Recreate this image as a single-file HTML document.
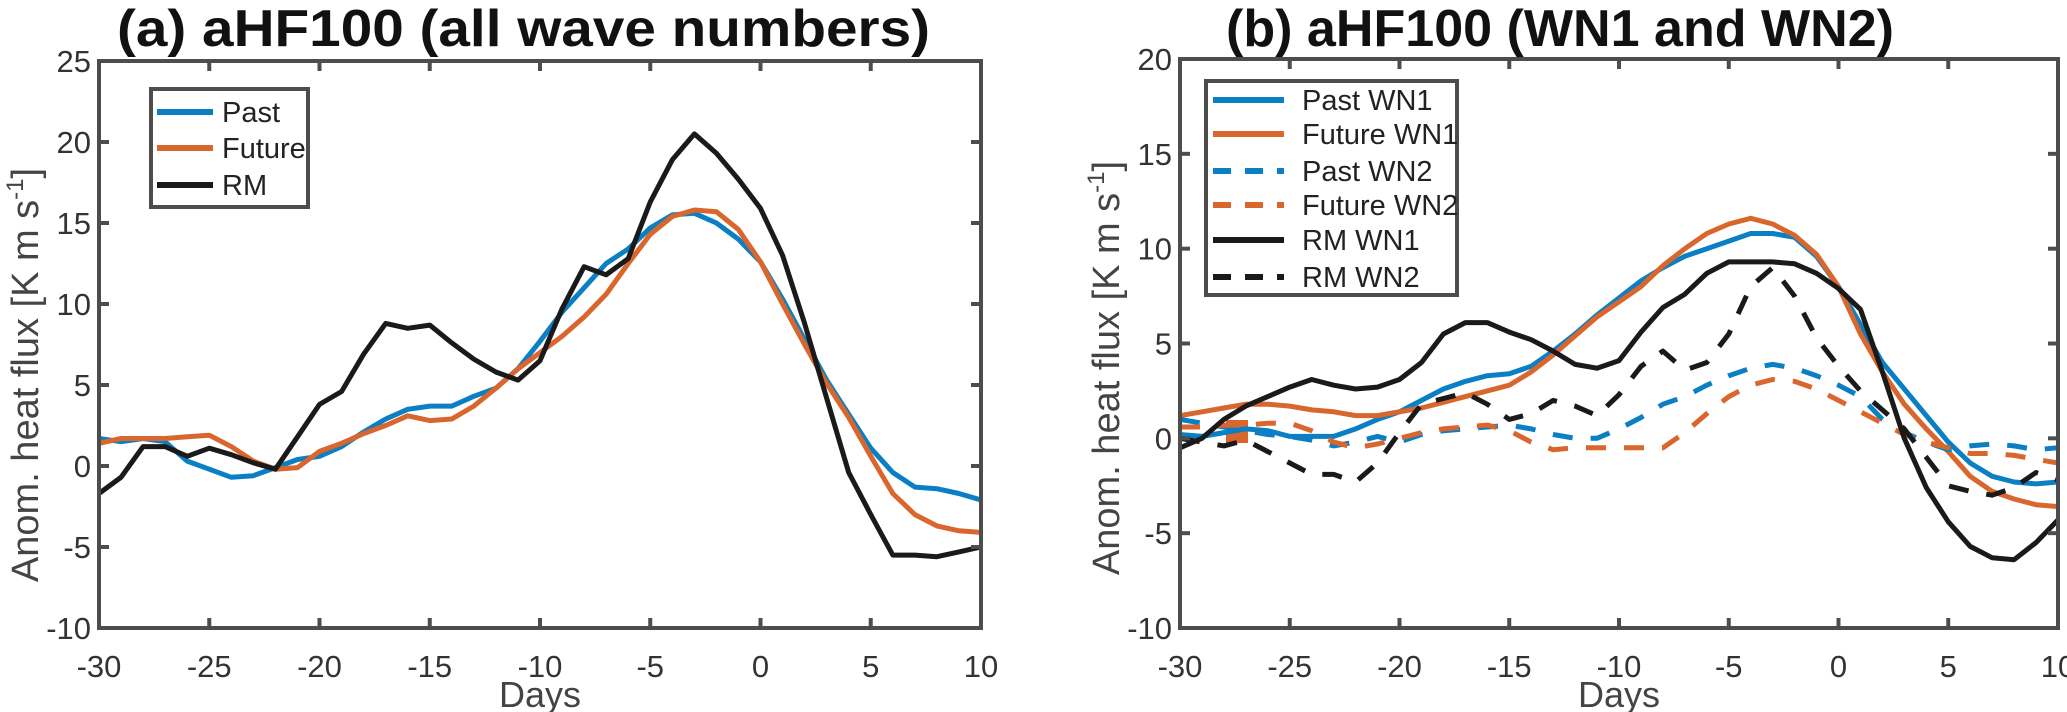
<!DOCTYPE html>
<html><head><meta charset="utf-8"><style>
html,body{margin:0;padding:0;background:#fff}
svg{display:block}
text{font-family:"Liberation Sans",sans-serif}
</style></head><body>
<svg id="chart" width="2067" height="712" viewBox="0 0 2067 712" xmlns="http://www.w3.org/2000/svg">
<g id="pa"></g>
<g id="pb"></g>
</svg>
<script>
const days = [-30,-29,-28,-27,-26,-25,-24,-23,-22,-21,-20,-19,-18,-17,-16,-15,-14,-13,-12,-11,-10,-9,-8,-7,-6,-5,-4,-3,-2,-1,0,1,2,3,4,5,6,7,8,9,10];
const xTicks = [-30,-25,-20,-15,-10,-5,0,5,10];
const yTicksA = [-10,-5,0,5,10,15,20,25];
const yTicksB = [-10,-5,0,5,10,15,20];
const pastA = [1.7,1.5,1.7,1.5,0.3,-0.2,-0.7,-0.6,-0.1,0.4,0.6,1.2,2.1,2.9,3.5,3.7,3.7,4.3,4.8,6.0,7.7,9.5,11.0,12.5,13.4,14.7,15.5,15.6,15.0,14.0,12.6,10.3,7.8,5.3,3.2,1.1,-0.4,-1.3,-1.4,-1.7,-2.1];
const futureA = [1.4,1.7,1.7,1.7,1.8,1.9,1.2,0.3,-0.2,-0.1,0.9,1.4,2.0,2.5,3.1,2.8,2.9,3.7,4.8,6.0,7.0,8.0,9.2,10.6,12.5,14.3,15.4,15.8,15.7,14.6,12.6,10.0,7.5,5.1,3.0,0.6,-1.7,-3.0,-3.7,-4.0,-4.1];
const rmA = [-1.7,-0.7,1.2,1.2,0.6,1.1,0.7,0.2,-0.2,1.8,3.8,4.6,6.9,8.8,8.5,8.7,7.6,6.6,5.8,5.3,6.5,9.7,12.3,11.8,12.8,16.3,18.9,20.5,19.3,17.7,15.9,13.0,8.8,4.2,-0.4,-3.0,-5.5,-5.5,-5.6,-5.3,-5.0];
const pastWN1 = [0.2,0.1,0.3,0.5,0.4,0.1,0.1,0.1,0.5,1.0,1.4,2.0,2.6,3.0,3.3,3.4,3.8,4.6,5.5,6.5,7.4,8.3,9.0,9.6,10.0,10.4,10.8,10.8,10.6,9.6,8.0,6.0,4.0,2.6,1.2,-0.2,-1.3,-2.0,-2.3,-2.4,-2.3];
const futureWN1 = [1.2,1.4,1.6,1.8,1.8,1.7,1.5,1.4,1.2,1.2,1.4,1.6,1.9,2.2,2.5,2.8,3.5,4.4,5.4,6.4,7.2,8.0,9.1,10.0,10.8,11.3,11.6,11.3,10.7,9.7,8.0,5.5,3.5,1.8,0.5,-0.7,-2.0,-2.8,-3.2,-3.5,-3.6];
const pastWN2 = [1.0,0.8,0.6,0.4,0.2,0.1,-0.1,-0.4,-0.2,0.1,-0.2,0.2,0.4,0.5,0.6,0.7,0.5,0.2,0.0,0.0,0.5,1.1,1.8,2.2,2.8,3.3,3.7,3.9,3.7,3.3,2.8,2.2,1.0,0.3,-0.2,-0.6,-0.4,-0.3,-0.4,-0.6,-0.5];
const futureWN2 = [0.6,0.6,0.7,0.7,0.8,0.8,0.4,-0.2,-0.5,-0.3,0.0,0.3,0.5,0.6,0.7,0.4,-0.2,-0.6,-0.5,-0.5,-0.5,-0.5,-0.5,0.3,1.3,2.2,2.8,3.1,3.0,2.6,2.0,1.4,0.8,0.2,-0.2,-0.5,-0.8,-0.8,-0.9,-1.1,-1.3];
const rmWN1 = [-0.5,0.0,1.0,1.7,2.2,2.7,3.1,2.8,2.6,2.7,3.1,4.0,5.5,6.1,6.1,5.6,5.2,4.6,3.9,3.7,4.1,5.6,6.9,7.6,8.7,9.3,9.3,9.3,9.2,8.7,7.9,6.8,3.5,0.0,-2.6,-4.4,-5.7,-6.3,-6.4,-5.5,-4.3];
const rmWN2 = [0.0,-0.2,-0.4,-0.1,-0.7,-1.3,-1.9,-1.9,-2.3,-1.3,0.3,1.8,2.1,2.4,1.8,1.0,1.3,2.0,1.7,1.2,2.3,3.8,4.6,3.6,4.0,5.5,8.0,9.0,7.5,5.3,3.8,2.5,1.5,0.5,-1.0,-2.5,-2.8,-3.0,-2.6,-1.8,-2.2];

const BLUE="#0a7fc4", ORANGE="#d9662c", BLACK="#1a1a1a", AX="#4d4d4d";
const NS="http://www.w3.org/2000/svg";
function mk(parent,tag,attrs){const e=document.createElementNS(NS,tag);for(const k in attrs)e.setAttribute(k,attrs[k]);parent.appendChild(e);return e;}

function panel(g,cfg){
  const {L,R,T,B,ymin,ymax,yTicks}=cfg;
  const xs=d=>L+(d+30)/40*(R-L);
  const ys=v=>B-(v-ymin)/(ymax-ymin)*(B-T);
  const clip=mk(g,'clipPath',{id:cfg.id+'clip'});
  mk(clip,'rect',{x:L,y:T,width:R-L,height:B-T});
  const lines=mk(g,'g',{'clip-path':'url(#'+cfg.id+'clip)'});
  
  
  if(cfg.extra) cfg.extra(lines,xs,ys);
  cfg.series.forEach(s=>{
    const p=mk(lines,'polyline',{points:days.map((d,i)=>xs(d).toFixed(1)+','+ys(s.v[i]).toFixed(1)).join(' '),fill:'none',stroke:s.c,'stroke-width':5,'stroke-linejoin':'round'});
    if(s.dash)p.setAttribute('stroke-dasharray','20,18');
    
    
  });
  const box=mk(g,'rect',{x:L,y:T,width:R-L,height:B-T,fill:'none',stroke:AX,'stroke-width':4});
  
  
  xTicks.forEach(t=>{
    const x=xs(t);
    mk(g,'line',{x1:x,x2:x,y1:B,y2:B-10,stroke:AX,'stroke-width':4});
    mk(g,'line',{x1:x,x2:x,y1:T,y2:T+10,stroke:AX,'stroke-width':4});
    const tx=mk(g,'text',{x:x,y:677,'text-anchor':'middle','font-size':31,fill:'#333'});
    tx.textContent=t;
    
    
  });
  yTicks.forEach(t=>{
    const y=ys(t);
    mk(g,'line',{x1:L,x2:L+10,y1:y,y2:y,stroke:AX,'stroke-width':4});
    mk(g,'line',{x1:R,x2:R-10,y1:y,y2:y,stroke:AX,'stroke-width':4});
    const tx=mk(g,'text',{x:L-8,y:y+11,'text-anchor':'end','font-size':31,fill:'#333'});
    tx.textContent=t;
    
    
  });
  const xl=mk(g,'text',{x:(L+R)/2,y:707,'text-anchor':'middle','font-size':36,fill:'#444'});
  xl.textContent='Days';
  
  
  const yl=mk(g,'text',{transform:'translate('+cfg.ylx+','+cfg.yly+') rotate(-90)','text-anchor':'middle','font-size':38,fill:'#444'});
  yl.innerHTML='Anom. heat flux [K m s<tspan dy="-15" font-size="24">-1</tspan><tspan dy="15">]</tspan>';
  
  
  const ti=mk(g,'text',{x:cfg.tx,y:46,'font-size':52,'font-weight':'bold',fill:'#111',textLength:cfg.tl,lengthAdjust:'spacingAndGlyphs'});
  ti.textContent=cfg.title;
  
  
  const lg=mk(g,'g',{});
  
  
  const lb=cfg.legend;
  mk(lg,'rect',{x:lb.x,y:lb.y,width:lb.w,height:lb.h,fill:'#fff',stroke:AX,'stroke-width':4});
  lb.items.forEach((it,i)=>{
    const y=lb.ys[i];
    const ln=mk(lg,'line',{x1:lb.lx1,x2:lb.lx2,y1:y,y2:y,stroke:it.c,'stroke-width':6});
    if(it.dash)ln.setAttribute('stroke-dasharray','18,14');
    const t=mk(lg,'text',{x:lb.tx,y:y+10,'font-size':29,fill:'#222'});
    t.textContent=it.name;
    
    
  });
}

panel(document.getElementById('pa'),{id:'a',L:99,R:981,T:61,B:628,ymin:-10,ymax:25,yTicks:yTicksA,
  ylx:38,yly:375,tx:117,tl:813,title:'(a)  aHF100 (all wave numbers)',
  series:[{v:pastA,c:BLUE,name:'past-line'},{v:futureA,c:ORANGE,name:'future-line'},{v:rmA,c:BLACK,name:'rm-line'}],
  legend:{x:151,y:89,w:157,h:118,lx1:157,lx2:213,tx:222,ys:[112,148,185],
    items:[{name:'Past',c:BLUE},{name:'Future',c:ORANGE},{name:'RM',c:BLACK}]}});

panel(document.getElementById('pb'),{id:'b',L:1180,R:2058,T:59,B:628,ymin:-10,ymax:20,yTicks:yTicksB,
  ylx:1119,yly:368,tx:1226,tl:668,title:'(b)   aHF100 (WN1 and WN2)',
  extra:(g,xs,ys)=>{const r=mk(g,'rect',{x:1226,y:420,width:22,height:23,fill:ORANGE});},
  series:[{v:pastWN1,c:BLUE,name:'past-wn1-line'},{v:futureWN1,c:ORANGE,name:'future-wn1-line'},
    {v:pastWN2,c:BLUE,dash:1,name:'past-wn2-line'},{v:futureWN2,c:ORANGE,dash:1,name:'future-wn2-line'},
    {v:rmWN1,c:BLACK,name:'rm-wn1-line'},{v:rmWN2,c:BLACK,dash:1,name:'rm-wn2-line'}],
  legend:{x:1206,y:81,w:251,h:214,lx1:1213,lx2:1284,tx:1302,ys:[100,134,171,205,240,277],
    items:[{name:'Past WN1',c:BLUE},{name:'Future WN1',c:ORANGE},{name:'Past WN2',c:BLUE,dash:1},{name:'Future WN2',c:ORANGE,dash:1},{name:'RM WN1',c:BLACK},{name:'RM WN2',c:BLACK,dash:1}]}});
</script>
</body></html>
